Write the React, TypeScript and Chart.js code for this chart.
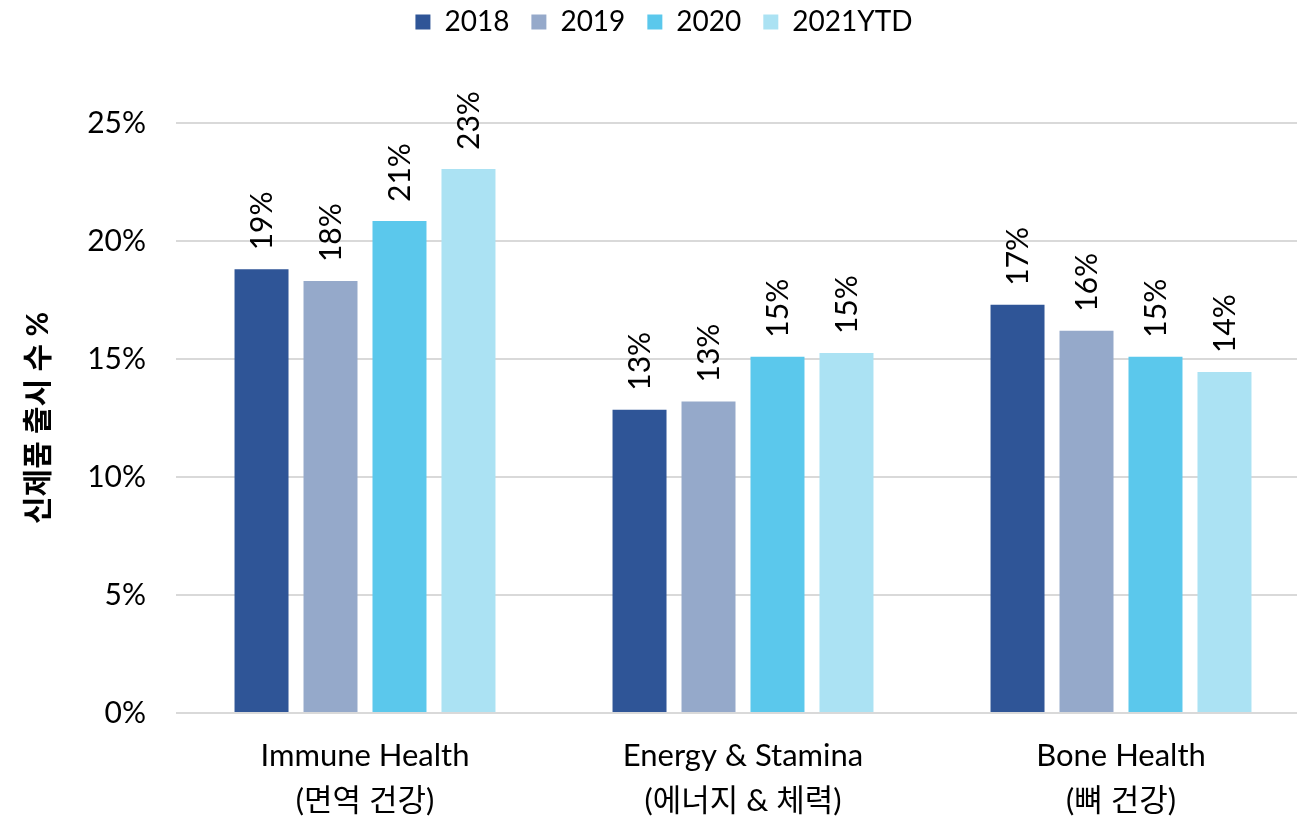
import React, { useEffect, useRef } from "react";
import { Chart, registerables } from "chart.js";

Chart.register(...registerables);

const FONT = "Lato, 'Noto Sans CJK KR', sans-serif";

const categories = [
  ["Immune Health", "(면역 건강)"],
  ["Energy & Stamina", "(에너지 & 체력)"],
  ["Bone Health", "(뼈 건강)"],
];
const seriesNames = ["2018", "2019", "2020", "2021YTD"];
const values2018 = [18.8, 12.85, 17.3];
const values2019 = [18.3, 13.2, 16.2];
const values2020 = [20.85, 15.1, 15.1];
const values2021 = [23.05, 15.25, 14.45];
const labels2018 = ["19%", "13%", "17%"];
const labels2019 = ["18%", "13%", "16%"];
const labels2020 = ["21%", "15%", "15%"];
const labels2021 = ["23%", "15%", "14%"];
const yTicks = [0, 5, 10, 15, 20, 25];
const yTitle = "신제품 출시 수 %";

const seriesValues = [values2018, values2019, values2020, values2021];
const seriesLabels = [labels2018, labels2019, labels2020, labels2021];
const seriesColors = ["#2F5597", "#95A9CA", "#5BC8EC", "#ABE2F3"];

const barLabelPlugin = {
  id: "barLabels",
  afterDatasetsDraw(chart: any) {
    const ctx = chart.ctx;
    chart.data.datasets.forEach((_ds: any, i: number) => {
      const meta = chart.getDatasetMeta(i);
      meta.data.forEach((bar: any, j: number) => {
        const text = seriesLabels[i][j];
        ctx.save();
        ctx.translate(bar.x, bar.y - 19);
        ctx.rotate(-Math.PI / 2);
        ctx.font = `30px ${FONT}`;
        ctx.fillStyle = "#000";
        ctx.textAlign = "left";
        ctx.textBaseline = "middle";
        ctx.fillText(text, 0, 1);
        ctx.restore();
      });
    });
  },
};

const legendTweakPlugin = {
  id: "legendTweak",
  afterInit(chart: any) {
    const lg = chart.legend;
    if (!lg) return;
    const fit = lg.fit.bind(lg);
    lg.fit = () => {
      fit();
      lg.height = 137;
    };
    const draw = lg.draw.bind(lg);
    lg.draw = (...args: any[]) => {
      const c = chart.ctx;
      c.save();
      c.translate(9, 0);
      draw(...args);
      c.restore();
    };
  },
};

export default function App() {
  const ref = useRef<HTMLCanvasElement>(null);
  useEffect(() => {
    if (!ref.current) return;
    const chart = new Chart(ref.current, {
      type: "bar",
      data: {
        labels: categories,
        datasets: seriesNames.map((name, i) => ({
          label: name,
          data: seriesValues[i],
          backgroundColor: seriesColors[i],
          categoryPercentage: 0.73,
          barPercentage: 0.7826,
        })),
      },
      options: {
        responsive: false,
        animation: false,
        layout: { padding: { top: -14, left: 0, right: 0, bottom: 0 } },
        plugins: {
          legend: {
            position: "top",
            labels: {
              boxWidth: 15,
              boxHeight: 15,
              padding: 22,
              color: "#000",
              font: { family: FONT, size: 28 },
            },
          },
          tooltip: { enabled: false },
        },
        scales: {
          x: {
            grid: { display: false },
            border: { display: false },
            ticks: {
              color: "#000",
              padding: 13,
              font: { family: FONT, size: 31, lineHeight: 1.45 },
            },
            afterFit: (s: any) => {
              s.height = 108;
            },
          },
          y: {
            min: 0,
            max: 25,
            afterBuildTicks: (s: any) => {
              s.ticks = yTicks.map((v) => ({ value: v }));
            },
            ticks: {
              color: "#000",
              padding: 30,
              font: { family: FONT, size: 30 },
              callback: (v: any) => v + "%",
            },
            grid: { color: "#D9D9D9", lineWidth: 2, drawTicks: false },
            border: { display: false },
            title: {
              display: true,
              text: yTitle,
              color: "#000",
              font: { family: FONT, size: 30, weight: "bold" },
              padding: { top: 20, bottom: 0 },
            },
            afterFit: (s: any) => {
              s.width = 176;
            },
          },
        },
      },
      plugins: [barLabelPlugin, legendTweakPlugin],
    });
    return () => chart.destroy();
  }, []);
  return (
    <div style={{ position: "fixed", left: 0, top: 0, width: 1297, height: 821, overflow: "hidden", background: "#fff" }}>
      <canvas ref={ref} width={1310} height={821} style={{ display: "block" }} />
    </div>
  );
}
